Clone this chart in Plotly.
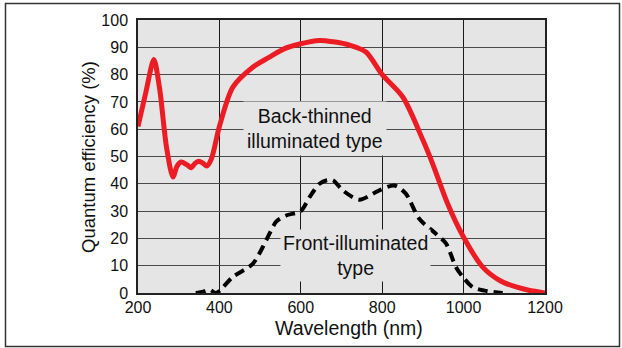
import plotly.graph_objects as go

# Back-thinned (red) curve
red_nm = [200, 220, 239, 253, 270, 286, 296, 306, 320, 331, 340, 349, 360, 369, 380, 400,
          433, 482, 523, 560, 597, 646, 680, 720, 760, 800, 851, 900, 924, 960, 998, 1047,
          1090, 1129, 1160, 1200]
red_qe = [61, 74, 85.5, 75, 53.4, 42.5, 46.5, 48, 47, 45.9, 47.5, 48.3, 47.5, 46.5, 49, 61,
          75.4, 82.7, 86.4, 89.5, 91.2, 92.5, 92, 90.8, 88.3, 80, 71.7, 56, 47.3, 33, 21, 9.5,
          4.5, 2.2, 1, 0]

# Front-illuminated (black dashed) curve
blk_nm = [342, 360, 376, 392, 433, 482, 515, 540, 564, 600, 621, 646, 664, 679, 703, 744, 793,
          830, 858, 891, 932, 957, 981, 998, 1022, 1047, 1096]
blk_qe = [0, 0.5, 1.2, 0, 5.9, 10.7, 19.3, 26.2, 28.4, 30, 35, 40, 41.3, 41.3, 37.6, 34.2, 37.6,
          39.4, 36.4, 27.2, 21.7, 18.1, 9.5, 5.9, 2.2, 1, 0]

x_ticks = [200, 400, 600, 800, 1000, 1200]
y_ticks = [0, 10, 20, 30, 40, 50, 60, 70, 80, 90, 100]

W, H = 622, 348
ML, MR, MT, MB = 138, 77, 20, 55
PW, PH = W - ML - MR, H - MT - MB
BG = "#e5e5e5"
FONT = "Liberation Sans, Arial, Helvetica, sans-serif"


def px2paper_x(px):
    return (px - ML) / PW


def px2paper_y(py):
    return (H - MB - py) / PH


fig = go.Figure()
fig.add_trace(go.Scatter(x=blk_nm, y=blk_qe, mode="lines",
                         line=dict(color="black", width=4, dash="10px,6px",
                                   shape="spline", smoothing=0.8),
                         showlegend=False, hoverinfo="skip"))
fig.add_trace(go.Scatter(x=red_nm, y=red_qe, mode="lines",
                         line=dict(color="#ec1c24", width=5, shape="spline", smoothing=0.8),
                         showlegend=False, hoverinfo="skip"))

common = dict(xref="paper", yref="paper", showarrow=False, xanchor="center", yanchor="middle")

fig.add_annotation(x=px2paper_x(315), y=px2paper_y(128.5),
                   text="Back-thinned<br>illuminated type",
                   font=dict(family=FONT, size=19.5, color="#111"),
                   bgcolor=BG, borderpad=3, align="center", **common)
fig.add_annotation(x=px2paper_x(355.5), y=px2paper_y(255),
                   text="Front-illuminated<br>type",
                   font=dict(family=FONT, size=19.5, color="#111"),
                   bgcolor=BG, borderpad=2, align="center", **common)

# axis titles
fig.add_annotation(x=px2paper_x(349), y=px2paper_y(328),
                   text="Wavelength (nm)",
                   font=dict(family=FONT, size=19.5, color="#111"), **common)
fig.add_annotation(x=px2paper_x(88), y=px2paper_y(157),
                   text="Quantum efficiency (%)", textangle=-90,
                   font=dict(family=FONT, size=18.5, color="#111"), **common)

# outer frame
fig.add_shape(type="rect", xref="paper", yref="paper",
              x0=px2paper_x(5.5), x1=px2paper_x(619.5),
              y0=px2paper_y(346.5), y1=px2paper_y(3.5),
              line=dict(color="#333", width=1.5), layer="below")

fig.update_layout(
    width=W, height=H,
    margin=dict(l=ML, r=MR, t=MT, b=MB, autoexpand=False),
    paper_bgcolor="white", plot_bgcolor=BG,
    font=dict(family=FONT, size=16, color="#111"),
    xaxis=dict(range=[200, 1200], tickvals=x_ticks, ticktext=[str(v) for v in x_ticks],
               showgrid=True, gridcolor="#1a1a1a", gridwidth=1.3, zeroline=False,
               showline=True, linecolor="#222", linewidth=1.5, mirror=True,
               ticks="", ticklabelstandoff=-1, tickfont=dict(size=16), automargin=False),
    yaxis=dict(range=[0, 100], tickvals=y_ticks, ticktext=[str(v) for v in y_ticks],
               showgrid=True, gridcolor="#4a4a4a", gridwidth=1.3, zeroline=False,
               showline=True, linecolor="#222", linewidth=1.5, mirror=True,
               ticks="", ticklabelstandoff=5, tickfont=dict(size=16), automargin=False),
)

fig.write_html("out.html", config={"displayModeBar": False},
               post_script="document.body.style.margin='0';document.body.style.overflow='hidden';")
